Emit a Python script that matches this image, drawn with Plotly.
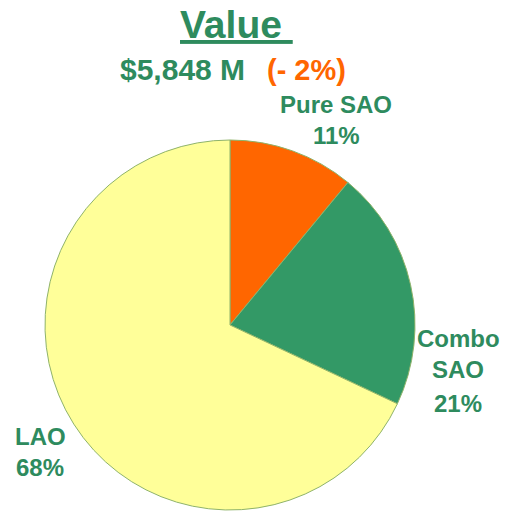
import plotly.graph_objects as go

GREEN_TEXT = "#2E8B5E"
ORANGE = "#FF6600"

segments = ["Pure SAO", "Combo SAO", "LAO"]
shares = [11, 21, 68]
slice_colors = ["#FF6600", "#339966", "#FFFF99"]
label_lines = [["Pure SAO", "11%"], ["Combo", "SAO", "21%"], ["LAO", "68%"]]

W, H = 507, 514


def fx(x):
    return x / W


def fy(y):
    return 1 - y / H


fig = go.Figure(
    go.Pie(
        labels=segments,
        values=shares,
        sort=False,
        direction="clockwise",
        rotation=0,
        marker=dict(colors=slice_colors, line=dict(color="#8FB36A", width=1)),
        textinfo="none",
        hoverinfo="label+percent",
        domain=dict(x=[fx(45), fx(415)], y=[fy(510), fy(140)]),
        showlegend=False,
    )
)


def px_ann(text, x, y, color, size):
    fig.add_annotation(
        text=text, x=fx(x), y=fy(y), xref="paper", yref="paper",
        showarrow=False, font=dict(color=color, size=size,
                                   family="Liberation Sans, Arial, sans-serif"),
        xanchor="center", yanchor="middle",
    )


px_ann("<b><u>Value </u></b>", 236, 24, GREEN_TEXT, 39)
px_ann("<b>$5,848 M</b>", 182, 70, GREEN_TEXT, 30)
px_ann("<b>(- 2%)</b>", 306, 70, ORANGE, 29)

label_pos = [(336, [105, 136]), (458, [338, 369, 403]), (40, [436, 467])]
for lines, (lx, ys) in zip(label_lines, label_pos):
    for t, ly in zip(lines, ys):
        px_ann(f"<b>{t}</b>", lx, ly, GREEN_TEXT, 24)

fig.update_layout(
    width=W,
    height=H,
    margin=dict(l=0, r=0, t=0, b=0),
    paper_bgcolor="white",
    plot_bgcolor="white",
)

fig.write_html(
    "out.html",
    config={"displayModeBar": False},
    post_script="document.body.style.margin='0';document.body.style.overflow='hidden';",
)
